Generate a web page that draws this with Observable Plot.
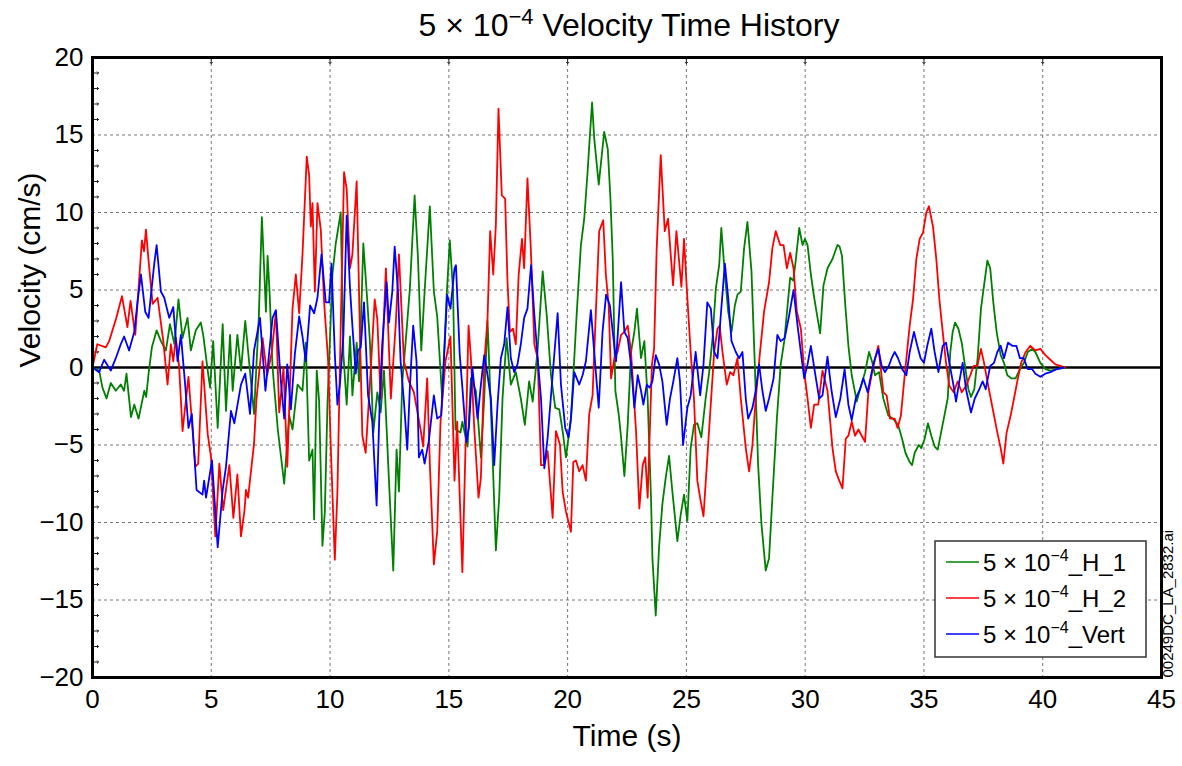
<!DOCTYPE html>
<html>
<head>
<meta charset="utf-8">
<script src="https://cdn.jsdelivr.net/npm/d3@7"></script>
<script src="https://cdn.jsdelivr.net/npm/@observablehq/plot@0.6"></script>
<style>
  html, body { margin: 0; padding: 0; background: #ffffff; }
  #chart { width: 1182px; height: 766px; }
</style>
</head>
<body>
<div id="chart"></div>
<script>
// ---- Data (time in s, velocity in cm/s) ----
const h1 = [
[0,0],[0.28,-0.2],[0.42,-1.3],[0.59,-2.0],[0.77,-1.0],[0.98,-1.5],[1.19,-1.1],[1.33,-1.5],[1.43,-0.4],[1.62,-3.2],
[1.76,-2.4],[1.94,-3.3],[2.18,-1.5],[2.26,-1.9],[2.36,-0.4],[2.5,1.3],[2.7,2.4],[2.88,1.7],[3.09,1.1],[3.26,2.8],
[3.45,1.5],[3.62,4.4],[3.79,1.9],[4.0,3.2],[4.14,1.1],[4.35,2.4],[4.56,2.9],[4.66,2.1],[4.85,-0.2],[4.95,-1.3],
[5.08,1.7],[5.27,-3.9],[5.48,2.8],[5.62,-2.8],[5.79,2.1],[5.9,-1.5],[6.1,2.1],[6.25,-0.2],[6.43,3.0],[6.8,-3.0],
[7.0,3.2],[7.13,9.7],[7.23,6.2],[7.3,3.6],[7.37,7.2],[7.45,5.0],[7.58,0],[7.8,-4.0],[8.07,-7.5],[8.28,-3.1],
[8.42,-4.0],[8.63,-1.1],[8.84,-1.5],[8.98,1.6],[9.12,-6.0],[9.26,-5.3],[9.33,-9.8],[9.44,-0.2],[9.54,-2.2],[9.68,-11.5],
[9.78,-9.3],[9.89,-2.4],[10.1,6.0],[10.24,8.0],[10.45,10.0],[10.56,0.9],[10.7,-2.4],[10.84,2.0],[10.94,-1.8],[11.12,1.6],
[11.22,-0.9],[11.4,8.0],[11.54,4.9],[11.68,1.6],[11.82,-4.2],[11.99,-1.6],[12.13,-2.9],[12.27,-0.2],[12.48,-7.3],[12.66,-13.1],
[12.8,-5.3],[12.9,-8.0],[13.04,-0.9],[13.18,1.6],[13.36,5.1],[13.56,11.1],[13.7,7.1],[13.84,1.1],[13.98,4.9],[14.2,10.4],
[14.37,4.9],[14.51,3.3],[14.72,-2.0],[14.9,4.4],[15.04,8.2],[15.18,4.9],[15.28,-4.0],[15.49,-4.2],[15.57,-3.5],[15.79,-5.1],
[15.93,-0.7],[16.14,-1.5],[16.35,-5.8],[16.49,-2.0],[16.63,3.0],[16.77,-2.6],[16.98,-11.8],[17.12,-8.4],[17.26,-2.0],[17.43,1.9],
[17.61,-1.1],[17.82,-0.3],[18.03,-2.0],[18.2,-3.7],[18.38,-0.9],[18.53,-2.2],[18.74,1.2],[18.95,6.2],[19.12,3.4],[19.3,-0.5],
[19.48,-2.6],[19.65,-2.7],[19.79,-4.1],[19.93,-5.8],[20.14,-3.3],[20.28,0.6],[20.38,3.4],[20.56,7.9],[20.7,9.6],[20.84,12.6],
[20.91,14.3],[21.03,17.1],[21.12,14.8],[21.31,11.8],[21.54,15.2],[21.69,14.1],[21.8,11.0],[21.9,7.0],[22.01,-1.5],[22.15,-3.0],
[22.25,-4.5],[22.39,-7.0],[22.53,-3.7],[22.67,1.0],[22.81,2.3],[22.92,3.8],[23.09,0.6],[23.23,1.7],[23.37,-2.0],[23.51,-8.4],
[23.57,-12.3],[23.71,-16.0],[23.85,-11.6],[23.99,-8.8],[24.13,-7.1],[24.27,-5.7],[24.41,-8.0],[24.62,-11.2],[24.76,-9.5],[24.9,-8.2],
[25.04,-9.9],[25.18,-5.2],[25.32,-3.7],[25.46,-3.6],[25.63,-4.5],[25.81,-2.0],[25.96,-0.3],[26.1,1.9],[26.24,5.1],[26.38,6.6],
[26.47,9.0],[26.62,6.0],[26.76,3.6],[26.9,2.3],[27.04,4.0],[27.15,4.7],[27.29,4.9],[27.43,7.7],[27.57,9.4],[27.74,6.2],
[27.88,0.2],[28.02,-6.3],[28.16,-10.1],[28.34,-13.1],[28.48,-12.3],[28.62,-8.4],[28.81,-3.3],[28.97,0.2],[29.12,1.7],[29.26,4.0],
[29.37,5.8],[29.5,5.6],[29.61,7.0],[29.75,9.0],[29.89,7.9],[29.99,8.3],[30.1,7.9],[30.24,6.0],[30.38,4.5],[30.52,3.2],
[30.63,2.2],[30.77,5.3],[30.94,6.4],[31.15,7.0],[31.36,7.9],[31.45,7.8],[31.55,7.2],[31.69,4.0],[31.82,1.4],[31.96,-0.5],
[32.1,-1.6],[32.17,-2.2],[32.31,-1.4],[32.52,-0.3],[32.69,1.0],[32.83,0.3],[32.94,-0.5],[33.11,-0.3],[33.29,-2.0],[33.5,-3.1],
[33.7,-3.3],[33.91,-3.7],[34.08,-4.6],[34.22,-5.5],[34.4,-6.1],[34.5,-6.3],[34.61,-5.5],[34.78,-5.0],[34.89,-5.2],[35.03,-4.6],
[35.17,-3.6],[35.31,-4.4],[35.45,-5.1],[35.58,-5.3],[35.72,-4.2],[35.86,-3.1],[36.0,-2.0],[36.11,1.0],[36.21,2.3],[36.31,2.9],
[36.45,2.5],[36.59,1.6],[36.73,0.1],[36.87,-1.4],[36.98,-1.9],[37.12,-1.4],[37.26,0.6],[37.4,3.8],[37.53,5.3],[37.67,6.9],
[37.79,6.4],[37.92,4.2],[38.06,2.3],[38.23,0.8],[38.37,0.3],[38.51,-0.5],[38.68,-0.7],[38.86,-0.7],[39.04,-0.1],[39.21,0.3],
[39.37,1.0],[39.55,1.2],[39.69,1.0],[39.9,0.3],[40.11,-0.1],[40.32,-0.2],[40.6,-0.1],[40.95,0]
];
const h2 = [
[0,0],[0.2,1.5],[0.56,1.3],[0.7,1.7],[1.0,3.2],[1.24,4.6],[1.47,2.6],[1.6,4.3],[1.8,2.1],[1.97,5.8],
[2.08,8.2],[2.17,7.5],[2.25,8.9],[2.36,6.9],[2.53,4.1],[2.74,4.5],[2.98,1.7],[3.16,-1.1],[3.3,1.5],[3.4,0.4],
[3.51,1.9],[3.65,0],[3.79,-4.1],[4.04,-0.6],[4.33,-6.4],[4.45,-6.2],[4.63,0.4],[4.85,-4.3],[4.99,-5.8],[5.17,-10.9],
[5.34,-6.2],[5.5,-9.2],[5.76,-6.3],[5.93,-9.7],[6.1,-6.9],[6.25,-10.9],[6.4,-9.2],[6.46,-7.9],[6.55,-8.4],[6.8,-4.9],
[6.9,-2.1],[7.16,1.9],[7.35,-0.5],[7.55,1.0],[7.72,3.6],[7.86,-2.9],[8.04,0],[8.2,-6.4],[8.42,3.8],[8.56,6.0],
[8.7,3.5],[8.84,7.3],[9.02,13.6],[9.12,12.4],[9.19,9.1],[9.26,10.6],[9.36,4.9],[9.47,10.6],[9.61,8.9],[9.75,4.2],
[9.92,0.4],[10.03,-5.1],[10.2,-12.4],[10.31,-8.0],[10.45,2.7],[10.59,12.6],[10.7,11.5],[10.84,6.4],[10.94,7.3],[11.12,12.0],
[11.26,2.0],[11.36,-4.4],[11.5,-5.5],[11.71,-0.2],[11.88,4.4],[11.99,3.1],[12.13,-2.0],[12.35,6.4],[12.56,-2.0],[12.77,2.9],
[12.9,7.3],[13.11,0.4],[13.32,-0.9],[13.53,-1.6],[13.81,-4.0],[13.92,-5.1],[14.09,-0.7],[14.2,-6.2],[14.37,-12.7],[14.51,-10.6],
[14.65,-3.5],[14.86,0.4],[15.07,2.0],[15.24,-7.3],[15.35,-3.5],[15.57,-13.2],[15.83,2.7],[15.93,0.6],[16.07,-3.9],[16.25,-8.4],
[16.35,-7.1],[16.49,0.2],[16.63,3.2],[16.74,8.8],[16.87,6.0],[16.98,9.2],[17.09,16.7],[17.23,11.1],[17.37,10.9],[17.47,5.5],
[17.57,2.3],[17.7,2.5],[17.82,1.5],[17.94,6.0],[18.08,8.3],[18.17,6.4],[18.31,12.2],[18.45,7.7],[18.6,1.5],[18.74,0.6],
[18.88,-6.3],[19.02,-6.3],[19.16,-5.4],[19.37,-9.7],[19.51,-4.1],[19.68,-5.0],[19.79,-8.0],[19.93,-9.3],[20.14,-10.6],[20.24,-6.1],
[20.35,-6.0],[20.49,-6.7],[20.63,-6.3],[20.77,-7.3],[20.91,-3.0],[21.05,-1.8],[21.19,3.6],[21.33,8.8],[21.5,9.5],[21.61,6.0],
[21.73,4.0],[21.83,-0.7],[21.97,0.6],[22.1,1.0],[22.25,2.1],[22.39,2.3],[22.53,2.7],[22.67,1.0],[22.88,-4.1],[23.02,-9.1],
[23.16,-6.3],[23.27,-5.8],[23.37,-8.4],[23.55,0.2],[23.64,1.2],[23.75,7.7],[23.92,13.7],[24.09,8.8],[24.23,9.6],[24.34,7.3],
[24.44,5.3],[24.58,8.8],[24.79,5.2],[24.9,8.3],[25.04,4.5],[25.18,1.0],[25.32,-2.0],[25.46,-7.3],[25.6,-8.6],[25.72,-9.6],
[25.86,-6.3],[26.0,-3.0],[26.17,1.0],[26.31,2.5],[26.4,2.7],[26.52,1.0],[26.7,-1.1],[26.84,-0.3],[26.98,-0.5],[27.15,0.6],
[27.29,-2.0],[27.5,-5.2],[27.64,-6.7],[27.78,-5.0],[27.92,-2.0],[28.1,1.0],[28.27,3.6],[28.48,5.5],[28.62,7.7],[28.76,8.8],
[28.95,7.9],[29.09,7.9],[29.23,6.4],[29.37,7.4],[29.51,6.4],[29.65,3.6],[29.82,2.5],[29.96,-0.3],[30.1,-2.0],[30.24,-3.9],
[30.38,-2.4],[30.55,-2.4],[30.73,-0.2],[30.94,-1.5],[31.15,-5.2],[31.29,-6.7],[31.41,-7.2],[31.57,-7.8],[31.71,-4.6],[31.82,-4.4],
[31.96,-3.5],[32.1,-4.4],[32.24,-4.0],[32.38,-4.4],[32.52,-4.8],[32.66,-1.6],[32.87,0.1],[33.08,1.4],[33.29,-1.6],[33.43,-1.8],
[33.57,-3.3],[33.77,-3.3],[33.89,-3.9],[34.03,-3.1],[34.19,-0.5],[34.4,2.7],[34.54,4.4],[34.68,7.0],[34.82,8.3],[34.96,8.7],
[35.1,10.0],[35.21,10.4],[35.38,9.1],[35.52,7.0],[35.65,4.4],[35.79,2.3],[35.93,0.3],[36.07,-1.2],[36.25,-1.6],[36.42,-0.9],
[36.59,-1.6],[36.77,-1.2],[36.95,-0.5],[37.09,0.1],[37.25,0.1],[37.4,1.2],[37.53,0.3],[37.67,-0.9],[37.81,-2.0],[37.95,-3.1],
[38.09,-4.2],[38.23,-5.2],[38.34,-6.2],[38.48,-4.2],[38.65,-3.1],[38.79,-2.0],[38.93,-0.9],[39.09,0.3],[39.28,1.0],[39.48,1.4],
[39.69,1.1],[39.9,1.2],[40.11,0.8],[40.32,0.5],[40.53,0.2],[40.74,0.1],[40.95,0]
];
const vert = [
[0,0],[0.28,-0.3],[0.49,0.5],[0.77,-0.2],[0.98,0.6],[1.19,1.5],[1.33,2.0],[1.54,1.1],[1.76,2.3],[1.9,4.3],
[2.04,6.0],[2.22,3.6],[2.36,3.2],[2.6,6.7],[2.7,7.9],[2.88,4.9],[3.02,4.5],[3.23,3.2],[3.4,3.9],[3.58,0.4],
[3.72,2.1],[3.9,-1.1],[4.04,-3.9],[4.18,-3.0],[4.38,-7.9],[4.63,-8.2],[4.7,-7.3],[4.78,-8.4],[5.03,-6.0],[5.27,-11.6],
[5.48,-7.9],[5.62,-6.4],[5.83,-2.8],[5.97,-3.6],[6.25,-1.1],[6.43,-0.4],[6.63,-3.0],[6.8,1.1],[7.05,3.2],[7.28,-1.5],
[7.58,3.2],[7.72,3.7],[7.93,-0.9],[8.07,-3.3],[8.2,0.2],[8.35,-2.7],[8.52,0.9],[8.7,3.3],[8.84,2.0],[8.98,0.4],
[9.16,4.0],[9.33,3.5],[9.47,4.5],[9.64,7.3],[9.82,4.2],[9.96,4.2],[10.06,6.7],[10.2,0.9],[10.31,-2.4],[10.42,-1.0],
[10.56,2.0],[10.7,9.8],[10.84,5.1],[10.94,2.7],[11.08,-0.4],[11.18,1.1],[11.29,1.3],[11.43,4.2],[11.6,-1.8],[11.78,-3.5],
[11.96,-8.9],[12.1,-1.8],[12.2,1.6],[12.38,5.5],[12.48,2.9],[12.62,4.9],[12.72,7.8],[12.86,4.9],[12.97,0.4],[13.11,-2.2],
[13.25,-5.3],[13.36,-1.3],[13.5,2.7],[13.64,0.4],[13.74,-5.8],[13.88,-5.3],[13.98,-6.2],[14.16,-4.7],[14.37,-1.8],[14.51,-3.3],
[14.68,-3.1],[14.79,0.4],[14.93,4.7],[15.07,3.8],[15.24,6.4],[15.3,6.6],[15.46,0.8],[15.57,-1.3],[15.74,-4.8],[15.85,-3.8],
[15.99,0],[16.21,-3.3],[16.35,-1.1],[16.49,0.8],[16.63,-0.5],[16.77,-2.0],[16.91,-6.3],[17.05,-2.4],[17.19,0.6],[17.33,1.5],
[17.47,3.9],[17.61,0.6],[17.75,-0.3],[17.89,0.2],[18.03,1.5],[18.17,3.2],[18.31,3.8],[18.46,6.6],[18.6,3.4],[18.74,0.6],
[18.88,-2.0],[19.02,-6.5],[19.16,-4.5],[19.37,-0.5],[19.58,3.5],[19.72,-1.1],[19.9,-3.9],[20.04,-4.5],[20.14,-3.3],[20.28,-0.3],
[20.49,-1.1],[20.63,-0.5],[20.77,0.4],[20.98,3.7],[21.12,1.0],[21.31,-2.6],[21.47,2.3],[21.62,4.7],[21.78,4.0],[21.9,2.3],
[22.04,0.4],[22.25,5.5],[22.39,2.3],[22.53,1.9],[22.67,0.2],[22.81,-2.6],[22.95,-0.5],[23.09,-1.5],[23.19,-2.4],[23.33,-1.1],
[23.45,-1.3],[23.57,-0.9],[23.71,0.8],[23.85,0.2],[23.99,-0.9],[24.17,-3.7],[24.31,-2.0],[24.45,-0.9],[24.62,0.6],[24.73,-0.9],
[24.86,-5.0],[25.04,-2.6],[25.18,-1.8],[25.39,1.0],[25.58,-1.8],[25.72,0.2],[25.88,4.2],[26.03,3.8],[26.17,1.0],[26.31,0.6],
[26.45,3.4],[26.62,6.7],[26.76,4.5],[26.9,1.7],[27.08,1.0],[27.22,0.6],[27.36,1.0],[27.5,-2.0],[27.6,-3.3],[27.78,-2.6],
[27.92,-1.5],[28.06,0.2],[28.2,-1.5],[28.34,-2.8],[28.48,-2.0],[28.67,-0.7],[28.83,2.1],[28.97,1.7],[29.14,1.9],[29.33,3.4],
[29.51,5.0],[29.68,2.7],[29.85,0.6],[29.96,-0.7],[30.1,0.2],[30.24,1.4],[30.41,-0.3],[30.59,-2.0],[30.73,-1.8],[30.94,0.7],
[31.11,-1.5],[31.29,-3.2],[31.48,-2.0],[31.66,-0.1],[31.82,-2.4],[31.96,-3.4],[32.13,-2.0],[32.31,-1.4],[32.45,-0.7],[32.63,-1.6],
[32.8,-0.3],[32.94,0.6],[33.08,1.2],[33.22,0.1],[33.36,-0.3],[33.52,0.1],[33.64,0.6],[33.77,1.0],[33.91,0.6],[34.08,-0.1],
[34.26,-0.5],[34.4,1.0],[34.58,2.3],[34.72,1.4],[34.86,0.6],[35.0,0.3],[35.14,1.4],[35.31,2.5],[35.45,1.0],[35.61,-0.3],
[35.79,1.4],[35.93,1.6],[36.07,0.3],[36.25,-1.2],[36.35,-2.2],[36.49,-0.9],[36.63,0.3],[36.77,-1.4],[36.98,-2.9],[37.14,-2.0],
[37.33,-1.4],[37.47,-0.9],[37.6,-1.4],[37.79,0.1],[37.95,0.3],[38.09,1.0],[38.23,1.4],[38.37,0.6],[38.54,1.6],[38.72,1.4],
[38.89,1.4],[39.04,0.6],[39.2,0.6],[39.37,-0.1],[39.55,-0.1],[39.69,-0.4],[39.9,-0.6],[40.11,-0.4],[40.32,-0.3],[40.6,-0.1],
[40.88,0]
];

const seriesNames = ["5 × 10⁻⁴_H_1", "5 × 10⁻⁴_H_2", "5 × 10⁻⁴_Vert"];
const seriesPrefix = "5 × 10";
const seriesExponent = "−4";
const seriesSuffix = ["_H_1", "_H_2", "_Vert"];
const seriesColors = ["#008000", "#ff0000", "#0000ff"];
const xDomain = [0, 45];
const yDomain = [-20, 20];
const xTicks = [0, 5, 10, 15, 20, 25, 30, 35, 40, 45];
const yTicks = [-20, -15, -10, -5, 0, 5, 10, 15, 20];
const yMinorTicks = d3.range(-19, 20, 1).filter(d => d % 5 !== 0);
const titleParts = ["5 × 10", "−4", " Velocity Time History"];
const xLabel = "Time (s)";
const yLabel = "Velocity (cm/s)";
const sideNote = "00249DC_LA_2832.ai";

// ---- Build tidy table ----
const rows = [];
[h1, h2, vert].forEach((s, k) => s.forEach(([t, v]) => rows.push({series: seriesNames[k], t, v})));

const FONT = "'Liberation Sans', Arial, Helvetica, sans-serif";

const chart = Plot.plot({
  width: 1182,
  height: 766,
  marginLeft: 92,
  marginRight: 21,
  marginTop: 57,
  marginBottom: 89,
  x: {domain: xDomain},
  y: {domain: yDomain},
  color: {domain: seriesNames, range: seriesColors},
  style: {fontFamily: FONT, fontSize: "26px", color: "#000", background: "#ffffff"},
  marks: [
    Plot.gridX(xTicks.slice(1, -1), {stroke: "#777", strokeOpacity: 1, strokeWidth: 1, strokeDasharray: "3,3"}),
    Plot.gridY(yTicks.slice(1, -1), {stroke: "#777", strokeOpacity: 1, strokeWidth: 1, strokeDasharray: "3,3"}),
    // inward minor ticks on the left edge (every 1 cm/s) and major ticks on the top edge
    Plot.vector(yMinorTicks, {x: () => xDomain[0], y: d => d, length: 6, rotate: 90, anchor: "start", stroke: "#222", strokeWidth: 1}),
    Plot.vector(xTicks.slice(1, -1), {x: d => d, y: () => yDomain[1], length: 6, rotate: 180, anchor: "start", stroke: "#222", strokeWidth: 1}),
    Plot.axisX(xTicks, {anchor: "bottom", tickSize: 0, tickPadding: 12, label: null, fontSize: 26}),
    Plot.axisY(yTicks, {anchor: "left", tickSize: 0, tickPadding: 9, label: null, fontSize: 26}),
    Plot.ruleY([0], {stroke: "#000", strokeWidth: 2.5}),
    Plot.line(rows, {x: "t", y: "v", z: "series", stroke: "series", strokeWidth: 1.8}),
    Plot.frame({stroke: "#000", strokeWidth: 3}),
    Plot.text([xLabel], {frameAnchor: "bottom", dy: 68, fontSize: 30, fill: "#000"}),
    Plot.text([yLabel], {frameAnchor: "left", dx: -62, rotate: -90, fontSize: 30, fill: "#000"}),
    Plot.text([sideNote], {frameAnchor: "bottom-right", dx: 11, rotate: -90, textAnchor: "start", fontSize: 15, fill: "#000"})
  ]
});

document.getElementById("chart").appendChild(chart);

// ---- Title with superscript ----
const svg = d3.select(chart);
const title = svg.append("text")
  .attr("x", 629).attr("y", 36)
  .attr("text-anchor", "middle")
  .attr("font-family", FONT)
  .attr("font-size", 32)
  .attr("fill", "#000");
title.append("tspan").text(titleParts[0]);
title.append("tspan").attr("dy", -12).attr("font-size", 22).text(titleParts[1]);
title.append("tspan").attr("dy", 12).text(titleParts[2]);

// ---- Legend ----
const lg = svg.append("g")
  .attr("font-family", FONT).attr("font-size", 24).attr("fill", "#000")
  .attr("text-anchor", "start");
lg.append("rect")
  .attr("x", 935).attr("y", 541).attr("width", 211).attr("height", 116)
  .attr("fill", "#fff").attr("stroke", "#333").attr("stroke-width", 1.5);
seriesNames.forEach((name, i) => {
  const cy = 562 + i * 36;
  lg.append("line")
    .attr("x1", 946).attr("x2", 979).attr("y1", cy).attr("y2", cy)
    .attr("stroke", seriesColors[i]).attr("stroke-width", 1.5);
  const t = lg.append("text").attr("x", 983).attr("y", cy + 9).attr("text-anchor", "start");
  t.append("tspan").text(seriesPrefix);
  t.append("tspan").attr("dy", -10).attr("font-size", 16).text(seriesExponent);
  t.append("tspan").attr("dy", 10).text(seriesSuffix[i]);
});
</script>
</body>
</html>
